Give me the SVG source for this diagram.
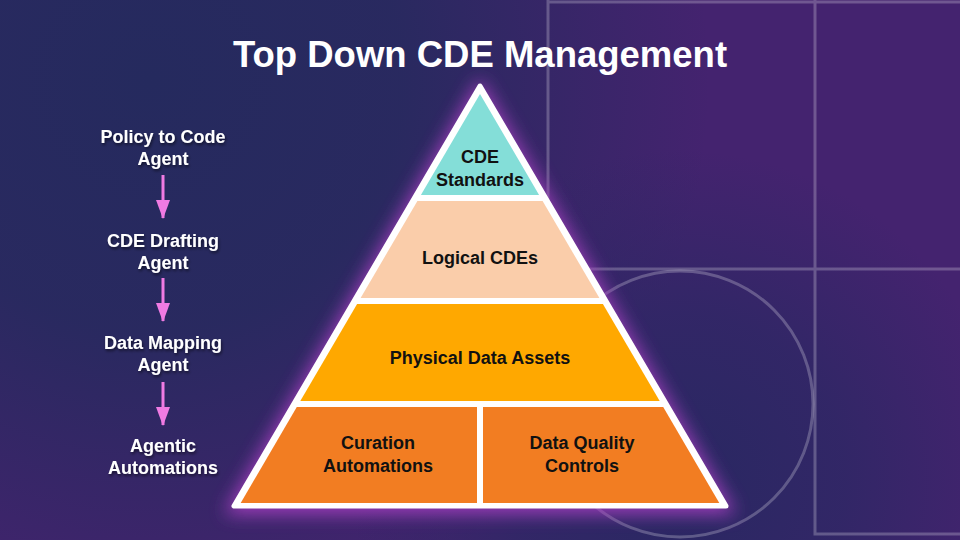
<svg xmlns="http://www.w3.org/2000/svg" width="960" height="540" viewBox="0 0 960 540">
<defs>
<radialGradient id="navyTL" cx="150" cy="80" r="560" gradientUnits="userSpaceOnUse">
<stop offset="0" stop-color="#252A5E"/>
<stop offset="0.45" stop-color="#262A5E" stop-opacity="0.9"/>
<stop offset="1" stop-color="#262A5E" stop-opacity="0"/>
</radialGradient>
<radialGradient id="navyBR" cx="680" cy="480" r="330" gradientUnits="userSpaceOnUse">
<stop offset="0" stop-color="#292862"/>
<stop offset="0.5" stop-color="#2A2863" stop-opacity="0.7"/>
<stop offset="1" stop-color="#2A2863" stop-opacity="0"/>
</radialGradient>
<filter id="glow" x="-20%" y="-20%" width="140%" height="140%">
<feGaussianBlur stdDeviation="9"/>
</filter>
<filter id="shadow" x="-10%" y="-20%" width="120%" height="150%">
<feDropShadow dx="1" dy="2" stdDeviation="1.5" flood-color="#000" flood-opacity="0.55"/>
</filter>
<marker id="arrow" viewBox="0 0 19 14" refX="18" refY="7" markerWidth="19" markerHeight="14" markerUnits="userSpaceOnUse" orient="auto">
<path d="M0,0 L19,7 L0,14 Z" fill="#F07BE3"/>
</marker>
</defs>
<style>
.title{font-family:"Liberation Sans",Arial,sans-serif;font-weight:700;font-size:36.5px;fill:#fff;}
.lbl{font-family:"Liberation Sans",Arial,sans-serif;font-weight:700;font-size:18px;fill:#fff;text-anchor:middle;}
.pl{font-family:"Liberation Sans",Arial,sans-serif;font-weight:700;font-size:18px;fill:#111;text-anchor:middle;}
.deco{fill:none;stroke:#FFFFFF;stroke-opacity:0.24;stroke-width:3;}
.conn{stroke:#F07BE3;stroke-width:3;fill:none;}
</style>

<!-- background -->
<rect width="960" height="540" fill="#44236F"/>
<rect width="960" height="540" fill="url(#navyTL)"/>
<rect width="960" height="540" fill="url(#navyBR)"/>

<!-- decorative grid -->
<g id="decor">
<path class="deco" d="M548,0 V269 M548,2 H960 M548,269 H960 M815,0 V534 H960"/>
<circle class="deco" cx="680" cy="404" r="133"/>
</g>

<!-- title -->
<text class="title" x="480" y="67" text-anchor="middle">Top Down CDE Management</text>

<!-- pyramid glow -->
<path d="M480,78 L224,514 L736,514 Z" fill="#A83FC2" opacity="0.9" filter="url(#glow)"/>
<!-- pyramid white frame -->
<path d="M480,86 L234,506 L726,506 Z" fill="#FFFFFF" stroke="#FFFFFF" stroke-width="5" stroke-linejoin="round"/>

<g id="cde-standards">
<path d="M480,94 L420.9,195 L539.1,195 Z" fill="#84DED8"/>
<text class="pl" x="480" y="163">CDE</text>
<text class="pl" x="480" y="186">Standards</text>
</g>

<g id="logical-cdes">
<path d="M417.4,201 L542.6,201 L599.4,298 L360.6,298 Z" fill="#FACDAA"/>
<text class="pl" x="480" y="264">Logical CDEs</text>
</g>

<g id="physical-data-assets">
<path d="M357.1,304 L602.9,304 L659.7,401 L300.3,401 Z" fill="#FFA800"/>
<text class="pl" x="480" y="364">Physical Data Assets</text>
</g>

<g id="curation-automations">
<path d="M296.8,407 L477,407 L477,503 L240.7,503 Z" fill="#F27D22"/>
<text class="pl" x="378" y="449">Curation</text>
<text class="pl" x="378" y="472">Automations</text>
</g>

<g id="data-quality-controls">
<path d="M483,407 L663.2,407 L719.3,503 L483,503 Z" fill="#F27D22"/>
<text class="pl" x="582" y="449">Data Quality</text>
<text class="pl" x="582" y="472">Controls</text>
</g>

<!-- left flow -->
<g id="policy-to-code-agent" filter="url(#shadow)">
<text class="lbl" x="163" y="143">Policy to Code</text>
<text class="lbl" x="163" y="165">Agent</text>
</g>
<g id="cde-drafting-agent" filter="url(#shadow)">
<text class="lbl" x="163" y="247">CDE Drafting</text>
<text class="lbl" x="163" y="269">Agent</text>
</g>
<g id="data-mapping-agent" filter="url(#shadow)">
<text class="lbl" x="163" y="349">Data Mapping</text>
<text class="lbl" x="163" y="371">Agent</text>
</g>
<g id="agentic-automations" filter="url(#shadow)">
<text class="lbl" x="163" y="452">Agentic</text>
<text class="lbl" x="163" y="474">Automations</text>
</g>

<g id="connectors">
<line class="conn" x1="163" y1="175" x2="163" y2="218" marker-end="url(#arrow)"/>
<line class="conn" x1="163" y1="278" x2="163" y2="321" marker-end="url(#arrow)"/>
<line class="conn" x1="163" y1="382" x2="163" y2="425" marker-end="url(#arrow)"/>
</g>
</svg>
